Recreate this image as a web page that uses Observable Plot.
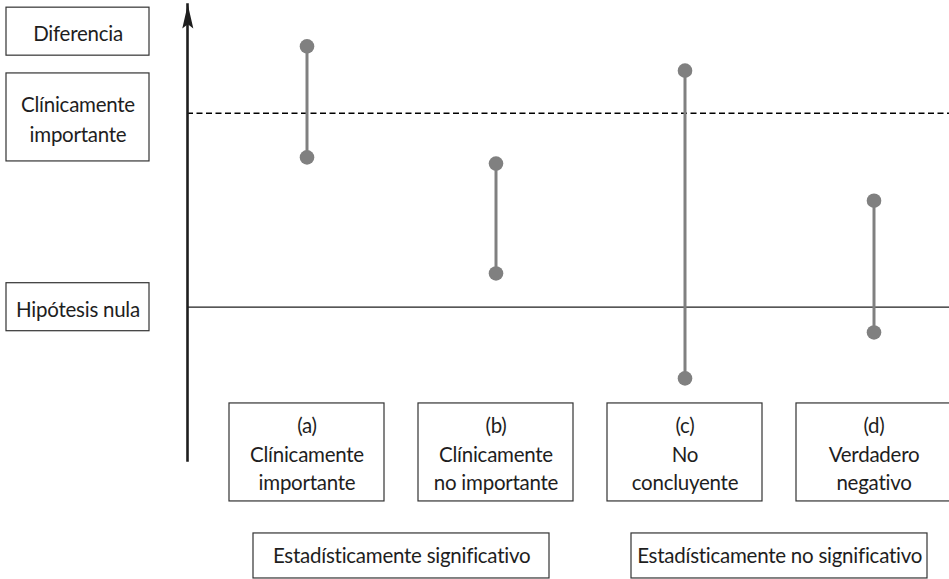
<!DOCTYPE html>
<html><head><meta charset="utf-8">
<script src="https://cdn.jsdelivr.net/npm/d3@7"></script>
<script src="https://cdn.jsdelivr.net/npm/@observablehq/plot@0.6"></script>
<style>body{margin:0;background:#fff} svg text{font-variant-ligatures:none;letter-spacing:-0.25px;}</style>
</head><body><div id="chart"></div>
<script>
// ---- data ----
const categories = ["a", "b", "c", "d"];
const categoryLabels = [
  "(a)\nClínicamente\nimportante",
  "(b)\nClínicamente\nno importante",
  "(c)\nNo\nconcluyente",
  "(d)\nVerdadero\nnegativo"
];
const intervalLow = [7.72, 1.74, -3.67, -1.30];
const intervalHigh = [13.44, 7.40, 12.19, 5.49];
const nullValue = 0;
const clinicalThreshold = 10;
const groupLabels = ["Estadísticamente significativo", "Estadísticamente no significativo"];
const groupFirst = ["a", "c"];
const groupLast = ["b", "d"];
const axisLabels = ["Diferencia", "Clínicamente\nimportante", "Hipótesis nula"];
const axisLabelValues = [14.2, 9.78, 0];

// ---- tables built from the arrays ----
const intervals = categories.map((c, i) => ({cat: c, label: categoryLabels[i], lo: intervalLow[i], hi: intervalHigh[i]}));
const groups = groupLabels.map((g, i) => ({label: g, first: groupFirst[i], last: groupLast[i]}));
const leftLabels = axisLabels.map((l, i) => ({label: l, value: axisLabelValues[i], lines: l.split("\n").length}));

// ---- layout ----
const W = 949, H = 579;
const mTop = 4, mBottom = 119, mLeft = 187;
const yDomain = [-7.9, 15.6];
const xRange = [211, 968];
const unit = (H - mTop - mBottom) / (yDomain[1] - yDomain[0]); // px per data unit
const step = (xRange[1] - xRange[0]) / categories.length;
const catBox = [-4.96, -10.01];
const groupBox = [-11.66, -13.98];
const ink = "#1e1e1e";
const boxStroke = "#333";
const grey = "#808080";
const fs = 20.5;

const arrowHead = {
  draw(context, size) {
    const r = Math.sqrt(size / Math.PI);
    const h = 2 * r, w = 0.46 * r;
    context.moveTo(0, 0);
    context.lineTo(w, h);
    context.lineTo(0, h - 0.35 * r);
    context.lineTo(-w, h);
    context.closePath();
  }
};

const chart = Plot.plot({
  width: W,
  height: H,
  marginTop: mTop,
  marginBottom: mBottom,
  marginLeft: mLeft,
  marginRight: 0,
  style: {fontFamily: "Lato, 'Open Sans', sans-serif", background: "#fff"},
  x: {type: "band", domain: categories, range: xRange, padding: 0, axis: null},
  y: {domain: yDomain, axis: null},
  marks: [
    Plot.ruleY([clinicalThreshold], {stroke: "#000", strokeWidth: 1.5, strokeDasharray: "6,3.5"}),
    Plot.ruleY([nullValue], {stroke: ink, strokeWidth: 1.3}),
    Plot.frame({anchor: "left", stroke: ink, strokeWidth: 2.6}),
    Plot.dot([0], {frameAnchor: "top-left", symbol: arrowHead, r: 12, fill: ink, stroke: "none", dx: 0.3}),
    Plot.ruleX(intervals, {x: "cat", y1: "lo", y2: "hi", stroke: grey, strokeWidth: 3}),
    Plot.dot(intervals, {x: "cat", y: "lo", r: 7.3, fill: grey}),
    Plot.dot(intervals, {x: "cat", y: "hi", r: 7.3, fill: grey}),
    // category boxes
    Plot.barY(intervals, {x: "cat", y1: () => catBox[0], y2: () => catBox[1], fill: "white", stroke: boxStroke, strokeWidth: 1.2, insetLeft: 17, insetRight: 17}),
    Plot.text(intervals, {x: "cat", y: () => (catBox[0] + catBox[1]) / 2, text: "label", fontSize: fs, lineHeight: 1.39, fill: ink}),
    // group boxes
    Plot.rect(groups, {x1: "first", x2: "last", y1: () => groupBox[0], y2: () => groupBox[1], fill: "white", stroke: boxStroke, strokeWidth: 1.2, insetLeft: 41, insetRight: 41}),
    Plot.text(groups, {x: "first", y: () => (groupBox[0] + groupBox[1]) / 2, dx: step / 2, text: "label", fontSize: fs, fill: ink}),
    // left axis labels in boxes
    Plot.rect(leftLabels, {
      y1: d => d.value + (d.lines * 40 + 8) / 2 / unit,
      y2: d => d.value - (d.lines * 40 + 8) / 2 / unit,
      fill: "white", stroke: boxStroke, strokeWidth: 1.2,
      insetLeft: -(mLeft - 6), insetRight: W - 149
    }),
    Plot.text(leftLabels, {y: "value", frameAnchor: "left", textAnchor: "middle", dx: -(mLeft - 77.5), text: "label", fontSize: fs, lineHeight: 1.48, fill: ink})
  ]
});
document.getElementById("chart").appendChild(chart);
</script>
</body></html>
